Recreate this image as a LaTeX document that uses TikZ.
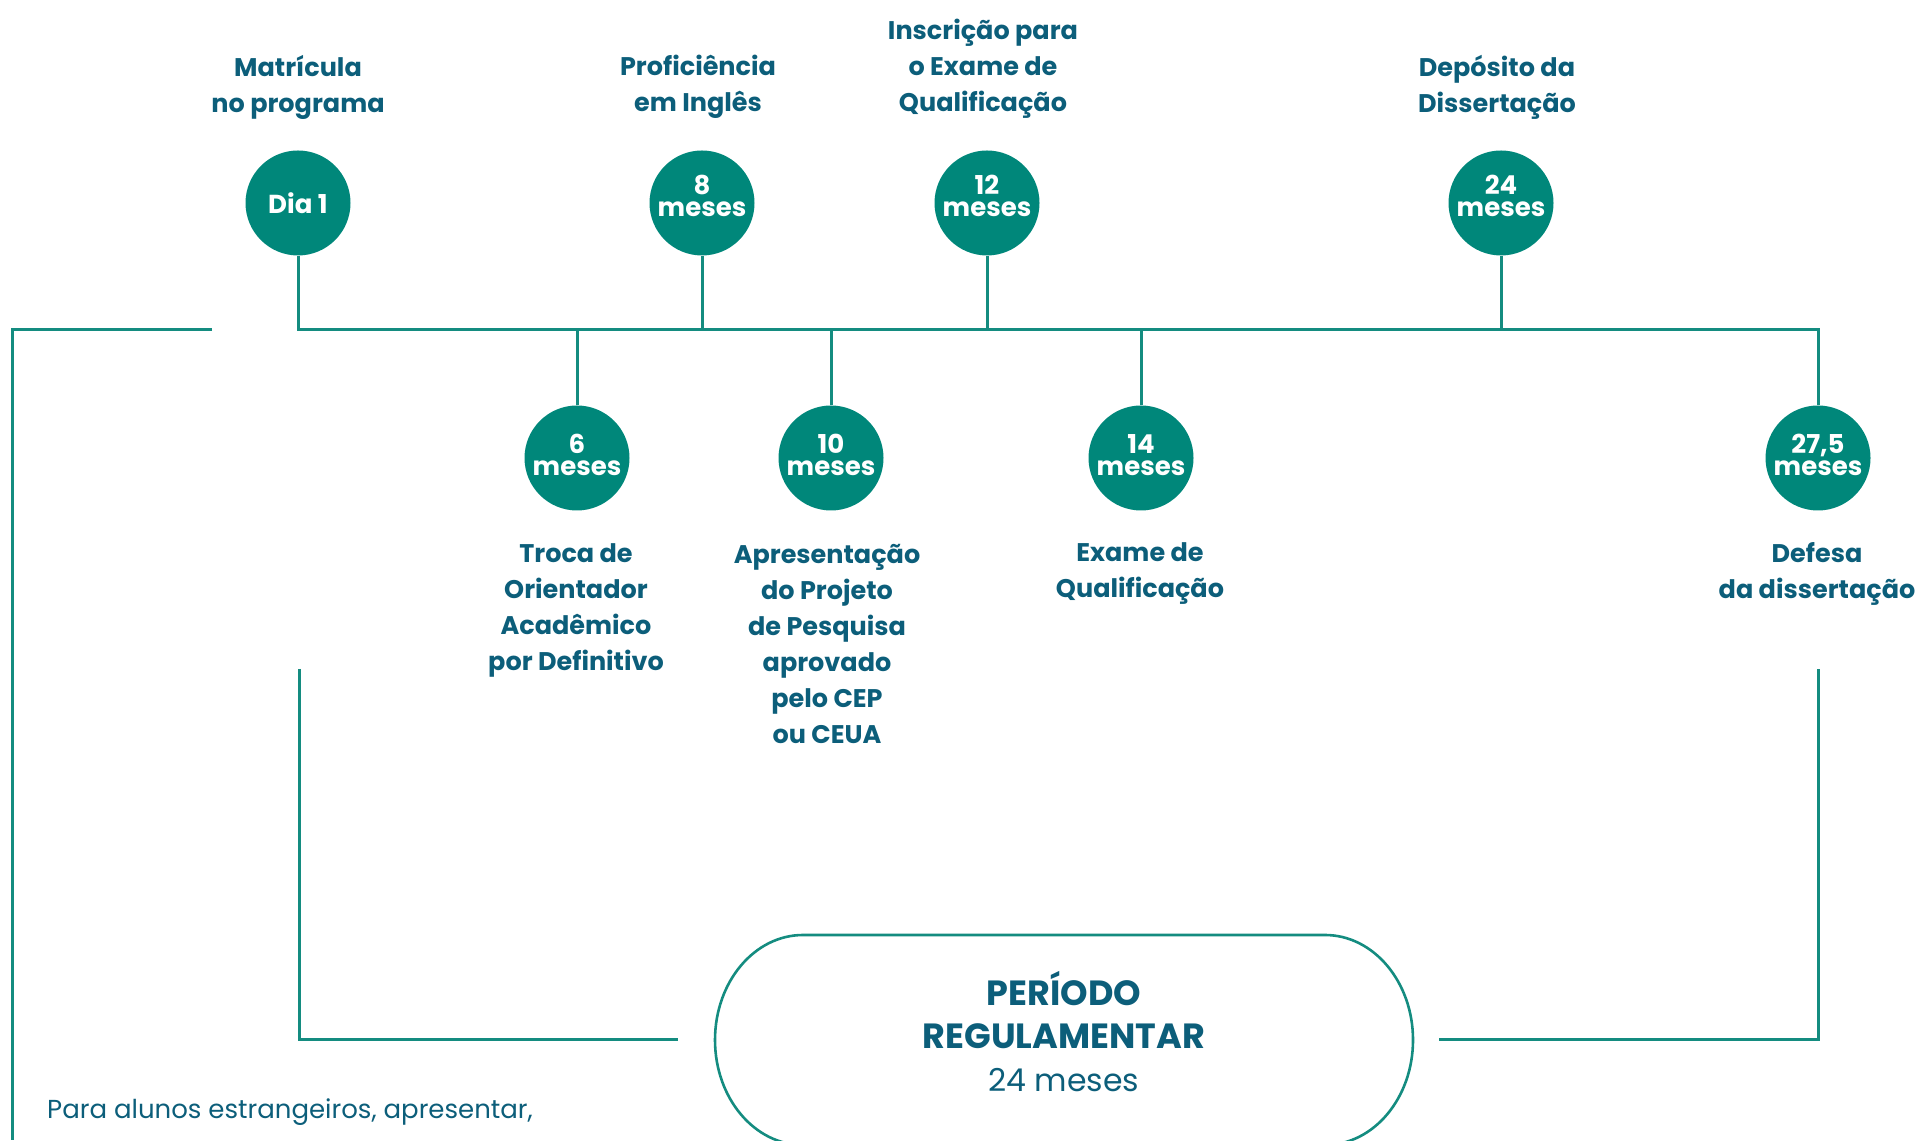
\documentclass[tikz,border=0pt]{standalone}
\usepackage{fontspec}
\setmainfont{Poppins}
\definecolor{tealc}{RGB}{0,135,122}
\definecolor{linec}{RGB}{20,140,128}
\definecolor{labc}{RGB}{12,94,122}
\begin{document}
\begin{tikzpicture}[x=1pt,y=1pt,
  ms/.style={circle, fill=tealc, minimum size=105pt, inner sep=0pt},
  mstxt/.style={text=white, align=center, inner sep=0pt,
    font=\bfseries\fontsize{26}{22.5}\selectfont},
  lbl/.style={text=labc, align=center, inner sep=0pt, font=\bfseries\fontsize{25.5}{36}\selectfont},
  ln/.style={draw=linec, line width=3pt},
  stad/.style={draw=linec, line width=2.6pt},
  pertxt/.style={text=labc, inner sep=0pt, font=\bfseries\fontsize{35}{40}\selectfont}
]
\useasboundingbox (0,0) rectangle (1921,1140);

% top milestones
\node[ms] (d1)  at (298,937) {};
\node[ms] (m8)  at (702,937) {};
\node[ms] (m12) at (987,937) {};
\node[ms] (m24) at (1501,937) {};
% bottom milestones
\node[ms] (m6)  at (577,682) {};
\node[ms] (m10) at (831,682) {};
\node[ms] (m14) at (1141,682) {};
\node[ms] (m275) at (1818,682) {};

\node[mstxt] (t1)  at (d1.center) {Dia 1};
\node[mstxt] (t8)  at ([yshift=7pt]m8.center) {8\\meses};
\node[mstxt] (t12) at ([yshift=7pt]m12.center) {12\\meses};
\node[mstxt] (t24) at ([yshift=7pt]m24.center) {24\\meses};
\node[mstxt] (t6)  at ([yshift=3pt]m6.center) {6\\meses};
\node[mstxt] (t10) at ([yshift=3pt]m10.center) {10\\meses};
\node[mstxt] (t14) at ([yshift=3pt]m14.center) {14\\meses};
\node[mstxt] (t275) at ([yshift=3pt]m275.center) {27,5\\meses};

% labels
\node[lbl] (l1)  at (298,1053) {Matrícula\\no programa};
\node[lbl] (l8)  at (698,1053) {Proficiência\\em Inglês};
\node[lbl] (l12) at (983,1071) {Inscrição para\\o Exame de\\Qualificação};
\node[lbl] (l24) at (1497,1053) {Depósito da\\ Dissertação};
\node[lbl] (l6)  at (576,530) {Troca de\\Orientador\\Acadêmico\\por Definitivo};
\node[lbl] (l10) at (827,496) {Apresentação\\do Projeto\\de Pesquisa\\aprovado\\pelo CEP\\ ou CEUA};
\node[lbl] (l14) at (1140,566) {Exame de\\Qualificação};
\node[lbl] (l275) at (1817,566) {Defesa\\da dissertação};

% timeline
\coordinate (hl) at (298,810);
\coordinate (hr) at (1818,810);
\coordinate (sl) at (12,810);
\coordinate (sr) at (212,810);
\coordinate (sb) at (12,0);
\draw[ln] (d1.south) -- (hl) -- (hr) -- (m275.north);
\draw[ln] (m8.south) -- (m8.south |- hl);
\draw[ln] (m12.south) -- (m12.south |- hl);
\draw[ln] (m24.south) -- (m24.south |- hl);
\draw[ln] (m6.north) -- (m6.north |- hl);
\draw[ln] (m10.north) -- (m10.north |- hl);
\draw[ln] (m14.north) -- (m14.north |- hl);
\draw[ln] (sr) -- (sl) -- (sb);

% period
\draw[stad] (803,205) -- (1325,205)
  arc[start angle=90, end angle=-90, x radius=88, y radius=105]
  -- (803,-5)
  arc[start angle=270, end angle=90, x radius=88, y radius=105] -- cycle;
\node[pertxt] (per1) at (1064,151) {PERÍODO};
\node[pertxt] (per2) at (1064,104) {REGULAMENTAR};
\node[text=labc, inner sep=0pt, font=\fontsize{31.5}{36}\selectfont] (per3) at (1064,60) {24 meses};
\coordinate (bl1) at (299,471);
\coordinate (bl2) at (299,100);
\coordinate (bl3) at (678,100);
\coordinate (br1) at (1439,100);
\coordinate (br2) at (1818,100);
\coordinate (br3) at (1818,471);
\draw[ln] (bl1) -- (bl2) -- (bl3);
\draw[ln] (br1) -- (br2) -- (br3);

% note
\node[text=labc, anchor=west, inner sep=0pt, font=\fontsize{26}{30}\selectfont] (note) at (47,28)
  {Para alunos estrangeiros, apresentar,};
\end{tikzpicture}
\end{document}
